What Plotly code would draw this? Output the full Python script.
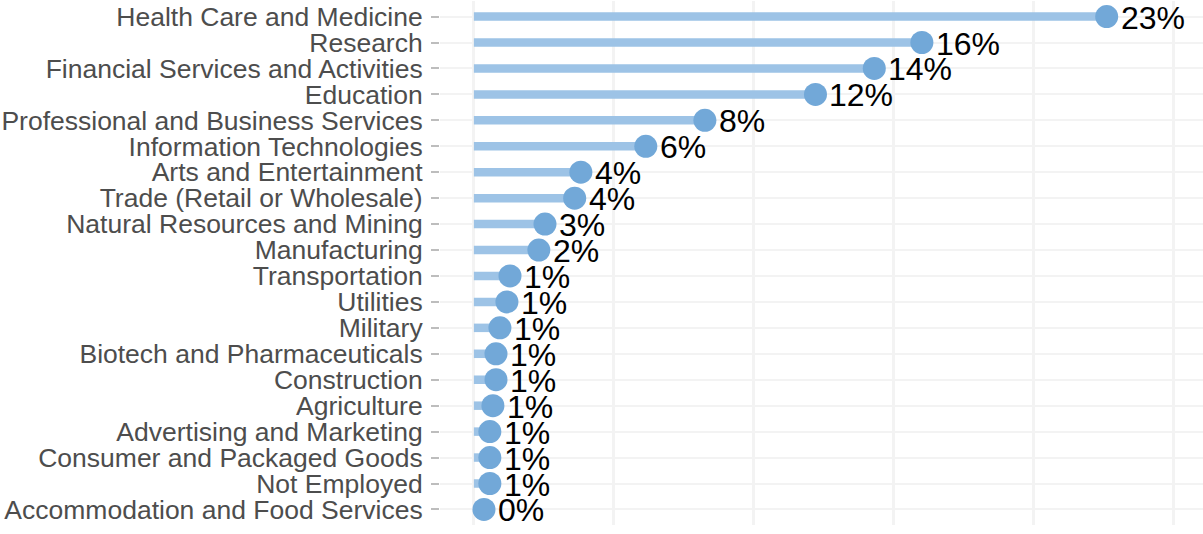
import plotly.graph_objects as go

categories = [
    "Health Care and Medicine",
    "Research",
    "Financial Services and Activities",
    "Education",
    "Professional and Business Services",
    "Information Technologies",
    "Arts and Entertainment",
    "Trade (Retail or Wholesale)",
    "Natural Resources and Mining",
    "Manufacturing",
    "Transportation",
    "Utilities",
    "Military",
    "Biotech and Pharmaceuticals",
    "Construction",
    "Agriculture",
    "Advertising and Marketing",
    "Consumer and Packaged Goods",
    "Not Employed",
    "Accommodation and Food Services",
]
values = [22.6, 16.0, 14.3, 12.2, 8.25, 6.14, 3.82, 3.6, 2.54, 2.32,
          1.29, 1.18, 0.93, 0.79, 0.79, 0.68, 0.57, 0.57, 0.57, 0.36]
labels = [f"{round(v)}%" for v in values]

seg_x, seg_y = [], []
for c, v in zip(categories, values):
    seg_x += [0, v, None]
    seg_y += [c, c, None]

fig = go.Figure()
fig.add_trace(go.Scatter(
    x=seg_x, y=seg_y, mode="lines",
    line=dict(color="#9DC3E6", width=8.5),
    hoverinfo="skip", showlegend=False,
))
fig.add_trace(go.Scatter(
    x=values, y=categories, mode="markers",
    marker=dict(color="#72A8D8", size=23),
    showlegend=False, cliponaxis=False,
))
for c, v, t in zip(categories, values, labels):
    fig.add_annotation(
        x=v, y=c, text=t, showarrow=False,
        xanchor="left", yanchor="middle", xshift=12, yshift=-1,
        font=dict(family="Liberation Sans, Arial, sans-serif", size=32, color="#000000"),
    )

fig.update_layout(
    width=1203, height=534,
    margin=dict(l=440, r=0, t=1, b=9),
    paper_bgcolor="white", plot_bgcolor="white",
    font=dict(family="Liberation Sans, Arial, sans-serif"),
)
fig.update_xaxes(
    range=[-1.21, 26.04], tick0=0, dtick=5, showticklabels=False,
    showgrid=True, gridcolor="#F3F3F3", gridwidth=2.5,
    zeroline=False, showline=False, ticks="",
)
fig.update_yaxes(
    type="category", categoryorder="array", categoryarray=categories,
    tickmode="array", tickvals=categories, ticktext=categories,
    range=[19.6, -0.6],
    showgrid=True, gridcolor="#F3F3F3", gridwidth=2,
    zeroline=False, showline=False,
    ticks="outside", ticklen=8, tickwidth=2, tickcolor="#BDBDBD",
    ticklabelstandoff=3,
    tickfont=dict(family="Liberation Sans, Arial, sans-serif", size=26.5, color="#4D4D4D"),
)

fig.write_html(
    "out.html",
    config={"displayModeBar": False},
    post_script="document.body.style.margin='0';document.body.style.overflow='hidden';",
)
